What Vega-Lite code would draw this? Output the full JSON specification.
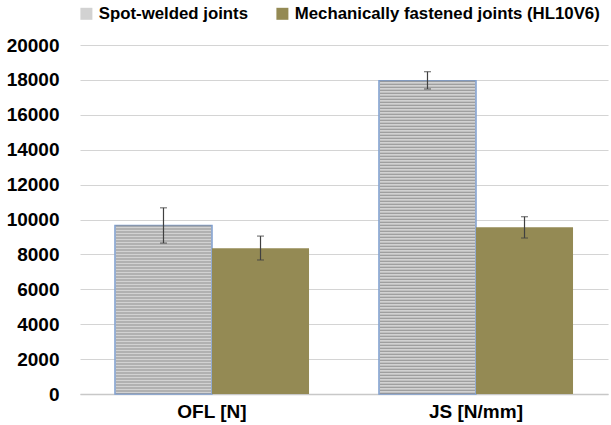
{
  "$schema": "https://vega.github.io/schema/vega-lite/v6.json",
  "width": 528,
  "height": 349,
  "autosize": {"type": "none"},
  "padding": {"left": 80, "top": 45, "right": 3, "bottom": 31},
  "background": "white",
  "config": {
    "font": "Liberation Sans",
    "view": {"stroke": null},
    "axisY": {"labelOverlap": false, "grid": true, "title": null, "format": "d", "labelFont": "Liberation Sans", "labelFontWeight": "bold", "labelFontSize": 19, "labelColor": "black", "labelPadding": 21, "tickSize": 0, "domain": false, "gridColor": "#d4d4d4", "gridWidth": 1.2}
  },
  "data": {
    "values": [
      {"category": "OFL [N]", "series": "Spot-welded joints", "value": 9650, "lo": 8650, "hi": 10670},
      {"category": "OFL [N]", "series": "Mechanically fastened joints (HL10V6)", "value": 8350, "lo": 7680, "hi": 9050},
      {"category": "JS [N/mm]", "series": "Spot-welded joints", "value": 17950, "lo": 17480, "hi": 18470},
      {"category": "JS [N/mm]", "series": "Mechanically fastened joints (HL10V6)", "value": 9550, "lo": 8940, "hi": 10160}
    ]
  },
  "encoding": {
    "x": {
      "field": "category", "type": "nominal", "sort": ["OFL [N]", "JS [N/mm]"],
      "scale": {"paddingInner": 0.265, "paddingOuter": 0.1325},
      "axis": {"title": null, "labelAngle": 0, "labelFont": "Liberation Sans", "labelFontWeight": "bold", "labelFontSize": 19, "labelColor": "black", "labelPadding": 8, "ticks": false, "domainColor": "#c8c8c8", "domainWidth": 1.5}
    },
    "xOffset": {"field": "series", "type": "nominal", "sort": ["Spot-welded joints", "Mechanically fastened joints (HL10V6)"]}
  },
  "layer": [
    {
      "mark": {"type": "bar", "strokeWidth": 1.5},
      "encoding": {
        "y": {
          "field": "value", "type": "quantitative",
          "scale": {"domain": [0, 20000], "nice": false},
          "axis": {"title": null, "values": [0, 2000, 4000, 6000, 8000, 10000, 12000, 14000, 16000, 18000, 20000], "labelOverlap": false}
        },
        "fill": {
          "field": "series", "type": "nominal", "sort": ["Spot-welded joints", "Mechanically fastened joints (HL10V6)"],
          "scale": {"range": ["#d2d2d2", "#948a54"]},
          "legend": {"title": null, "orient": "none", "legendX": -2, "legendY": -40, "direction": "horizontal", "symbolType": "square", "symbolSize": 144, "symbolStrokeWidth": 0, "symbolOpacity": 1, "labelFont": "Liberation Sans", "labelFontWeight": "bold", "labelFontSize": 16.8, "labelColor": "black", "labelLimit": 500, "columnPadding": 26, "labelOffset": 4}
        },
        "stroke": {
          "condition": {"test": "datum.series === 'Spot-welded joints'", "value": "#7f9fcf"},
          "value": "transparent"
        }
      }
    },
    {
      "transform": [{"filter": "datum.series === 'Spot-welded joints'"}],
      "mark": {"type": "rule", "color": "#8f8f8f", "strokeWidth": 95, "strokeDash": [1, 2], "strokeCap": "butt"},
      "encoding": {
        "y": {"field": "value", "type": "quantitative", "axis": {"title": null, "values": [0, 2000, 4000, 6000, 8000, 10000, 12000, 14000, 16000, 18000, 20000], "labelOverlap": false}},
        "y2": {"datum": 0}
      }
    },
    {
      "mark": {"type": "rule", "color": "#404040", "strokeWidth": 1.2},
      "encoding": {
        "y": {"field": "lo", "type": "quantitative", "axis": {"title": null, "values": [0, 2000, 4000, 6000, 8000, 10000, 12000, 14000, 16000, 18000, 20000], "labelOverlap": false}},
        "y2": {"field": "hi"}
      }
    },
    {
      "mark": {"type": "tick", "color": "#404040", "thickness": 1.2, "size": 7, "orient": "horizontal"},
      "encoding": {
        "y": {"field": "lo", "type": "quantitative", "axis": {"title": null, "values": [0, 2000, 4000, 6000, 8000, 10000, 12000, 14000, 16000, 18000, 20000], "labelOverlap": false}}
      }
    },
    {
      "mark": {"type": "tick", "color": "#404040", "thickness": 1.2, "size": 7, "orient": "horizontal"},
      "encoding": {
        "y": {"field": "hi", "type": "quantitative", "axis": {"title": null, "values": [0, 2000, 4000, 6000, 8000, 10000, 12000, 14000, 16000, 18000, 20000], "labelOverlap": false}}
      }
    }
  ]
}
